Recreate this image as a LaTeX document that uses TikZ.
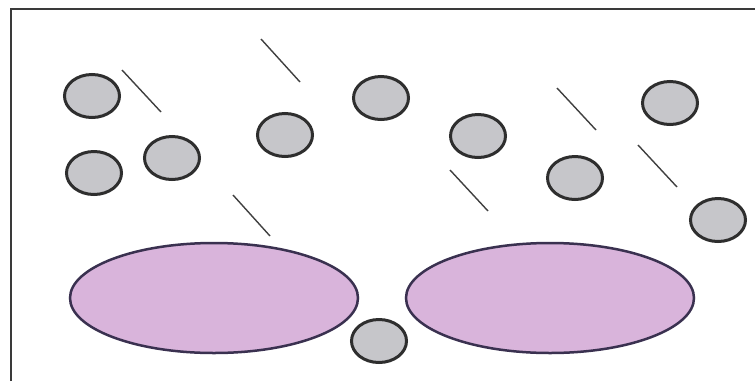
\documentclass[tikz,border=0pt]{standalone}
\usetikzlibrary{shapes.geometric}
\definecolor{ballfill}{HTML}{C6C6CA}
\definecolor{ballline}{HTML}{2E2E2E}
\definecolor{padfill}{HTML}{D9B4DB}
\definecolor{padline}{HTML}{3A3150}
\definecolor{frameline}{HTML}{3A3A3A}
\definecolor{stickline}{HTML}{404040}
\tikzset{
  ball/.style={ellipse, draw=ballline, fill=ballfill, line width=3pt,
    minimum width=55pt, minimum height=43pt, inner sep=0pt},
  pad/.style={ellipse, draw=padline, fill=padfill, line width=2.5pt,
    minimum width=288pt, minimum height=110pt, inner sep=0pt},
  stick/.style={draw=stickline, line width=1.4pt},
  frame/.style={draw=frameline, line width=2pt}
}
\begin{document}
\begin{tikzpicture}[x=1pt, y=-1pt]
\useasboundingbox (0,0) rectangle (755,381);
\fill[white] (0,0) rectangle (755,381);
% open frame: top and left edges only
\draw[frame] (11,381) -- (11,9) -- (755,9);
% two large pads
\node[pad] (padL) at (214,298) {};
\node[pad] (padR) at (550,298) {};
% small particles
\node[ball] (b1) at (92,96) {};
\node[ball] (b2) at (94,173) {};
\node[ball] (b3) at (172,158) {};
\node[ball] (b4) at (285,135) {};
\node[ball] (b5) at (381,98) {};
\node[ball] (b6) at (478,136) {};
\node[ball] (b7) at (575,178) {};
\node[ball] (b8) at (670,103) {};
\node[ball] (b9) at (718,220) {};
\node[ball] (b10) at (379,341) {};
% short rods
\draw[stick] (122,70) -- (161,112);
\draw[stick] (261,39) -- (300,82);
\draw[stick] (233,195) -- (270,236);
\draw[stick] (450,170) -- (488,211);
\draw[stick] (557,88) -- (596,130);
\draw[stick] (638,145) -- (677,187);
\end{tikzpicture}
\end{document}
